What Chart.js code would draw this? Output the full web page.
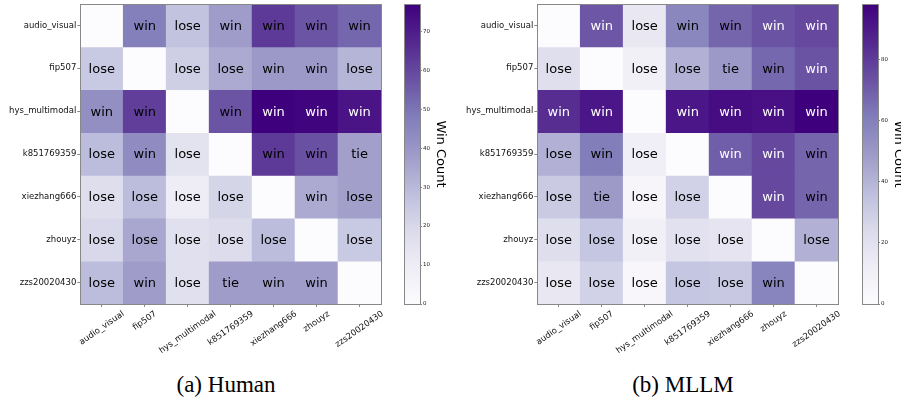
<!DOCTYPE html>
<html>
<head>
<meta charset="utf-8">
<script src="https://cdn.jsdelivr.net/npm/chart.js@4.4.1/dist/chart.umd.min.js"></script>
<style>
  body { margin: 0; background: #fff; width: 901px; height: 400px; position: relative; overflow: hidden; }
  canvas { position: absolute; top: 0; }
  .caption { position: absolute; top: 372px; font-family: "Liberation Serif", serif; font-size: 23px; color: #000; transform: translateX(-50%); white-space: nowrap; }
</style>
</head>
<body>
<canvas id="humanChart" width="400" height="360" style="left:0"></canvas>
<canvas id="humanBar" width="57" height="360" style="left:395px"></canvas>
<canvas id="mllmChart" width="400" height="360" style="left:457px"></canvas>
<canvas id="mllmBar" width="57" height="360" style="left:853px"></canvas>
<div class="caption" style="left:226px">(a) Human</div>
<div class="caption" style="left:683px">(b) MLLM</div>

<script>
/* Data */
const players = ["audio_visual", "fip507", "hys_multimodal", "k851769359", "xiezhang666", "zhouyz", "zzs20020430"];

// win counts, row player vs column player
const humanCounts = [
  [0, 47, 27, 38, 63, 57, 53],
  [25, 0, 23, 34, 39, 39, 31],
  [42, 62, 0, 57, 77, 76, 72],
  [29, 43, 15, 0, 63, 58, 37],
  [17, 29, 10, 21, 0, 34, 37],
  [20, 35, 16, 18, 29, 0, 25],
  [29, 38, 16, 38, 38, 38, 0],
];
const humanResults = [
  ["", "win", "lose", "win", "win", "win", "win"],
  ["lose", "", "lose", "lose", "win", "win", "lose"],
  ["win", "win", "", "win", "win", "win", "win"],
  ["lose", "win", "lose", "", "win", "win", "tie"],
  ["lose", "lose", "lose", "lose", "", "win", "lose"],
  ["lose", "lose", "lose", "lose", "lose", "", "lose"],
  ["lose", "win", "lose", "tie", "win", "win", ""],
];

const mllmCounts = [
  [0, 72, 16, 57, 68, 73, 76],
  [21, 0, 10, 41, 50, 67, 73],
  [84, 91, 0, 91, 94, 93, 98],
  [41, 61, 11, 0, 70, 76, 68],
  [31, 49, 5, 28, 0, 76, 68],
  [22, 33, 10, 20, 18, 0, 41],
  [16, 28, 4, 33, 32, 58, 0],
];
const mllmResults = [
  ["", "win", "lose", "win", "win", "win", "win"],
  ["lose", "", "lose", "lose", "tie", "win", "win"],
  ["win", "win", "", "win", "win", "win", "win"],
  ["lose", "win", "lose", "", "win", "win", "win"],
  ["lose", "tie", "lose", "lose", "", "win", "win"],
  ["lose", "lose", "lose", "lose", "lose", "", "lose"],
  ["lose", "lose", "lose", "lose", "lose", "win", ""],
];

/* Purples colormap */
const purpleStops = ["#fcfbfd", "#efedf5", "#dadaeb", "#bcbddc", "#9e9ac8", "#807dba", "#6a51a3", "#54278f", "#3f007d"];

function hexToRgb(h) {
  return [1, 3, 5].map((i) => parseInt(h.slice(i, i + 2), 16));
}

function purples(t) {
  t = Math.min(1, Math.max(0, t));
  const pos = t * (purpleStops.length - 1);
  const i = Math.min(Math.floor(pos), purpleStops.length - 2);
  const f = pos - i;
  const a = hexToRgb(purpleStops[i]);
  const b = hexToRgb(purpleStops[i + 1]);
  const c = a.map((v, k) => Math.round(v + (b[k] - v) * f));
  return `rgb(${c[0]},${c[1]},${c[2]})`;
}

const frameColor = "#888";
const labelFont = { family: "DejaVu Sans", size: 8.5 };

const framePlugin = {
  id: "frame",
  afterDraw(chart) {
    const { ctx, chartArea: a } = chart;
    ctx.save();
    ctx.strokeStyle = frameColor;
    ctx.lineWidth = 1;
    ctx.strokeRect(Math.round(a.left) + 0.5, Math.round(a.top) + 0.5, Math.round(a.right - a.left), Math.round(a.bottom - a.top));
    ctx.restore();
  },
};

/* Heatmap: one stacked bar per column, one dataset per row */
function makeHeatmap(id, counts, results, whiteAbove) {
  const vmax = Math.max(...counts.flat());

  const cellText = {
    id: "cellText",
    afterDatasetsDraw(chart) {
      const { ctx } = chart;
      ctx.save();
      ctx.font = '13px "DejaVu Sans"';
      ctx.textAlign = "center";
      ctx.textBaseline = "middle";
      chart.data.datasets.forEach((ds, r) => {
        chart.getDatasetMeta(r).data.forEach((bar, c) => {
          const { x, y, base } = bar.getProps(["x", "y", "base"], true);
          ctx.fillStyle = counts[r][c] >= whiteAbove ? "#fff" : "#000";
          ctx.fillText(results[r][c], x, (y + base) / 2 + 1);
        });
      });
      ctx.restore();
    },
    afterDraw(chart) {
      // rotated column labels, centred under each tick like matplotlib
      const { ctx } = chart;
      const xs = chart.scales.x;
      const angle = (35 * Math.PI) / 180;
      ctx.save();
      ctx.font = `${labelFont.size}px "${labelFont.family}"`;
      ctx.fillStyle = "#111";
      ctx.textAlign = "center";
      ctx.textBaseline = "middle";
      players.forEach((name, i) => {
        const w = ctx.measureText(name).width;
        const h = labelFont.size * 1.17;
        const px = xs.getPixelForValue(i);
        const py = chart.chartArea.bottom + 5 + (w * Math.sin(angle) + h * Math.cos(angle)) / 2;
        ctx.save();
        ctx.translate(px, py);
        ctx.rotate(-angle);
        ctx.fillText(name, 0, 0);
        ctx.restore();
      });
      ctx.restore();
    },
  };

  return new Chart(document.getElementById(id), {
    type: "bar",
    data: {
      labels: players,
      datasets: players.map((name, r) => ({
        label: name,
        data: players.map(() => 1),
        backgroundColor: counts[r].map((v) => purples(v / vmax)),
        borderWidth: 0,
        barPercentage: 1,
        categoryPercentage: 1,
      })),
    },
    options: {
      responsive: false,
      animation: false,
      devicePixelRatio: 1,
      layout: { padding: { top: 4, right: 19, left: 0, bottom: 0 } },
      scales: {
        x: {
          stacked: true,
          border: { display: false },
          grid: { offset: false, drawOnChartArea: false, drawTicks: true, tickLength: 3, color: frameColor },
          ticks: { display: false },
          afterFit: (scale) => {
            scale.height = 56;
            scale.paddingLeft = 0;
            scale.paddingRight = 0;
          },
        },
        y: {
          stacked: true,
          reverse: true,
          min: 0,
          max: players.length,
          border: { display: false },
          grid: { drawOnChartArea: false, drawTicks: true, tickLength: 3, color: frameColor },
          afterBuildTicks: (scale) => {
            scale.ticks = players.map((p, i) => ({ value: i + 0.5 }));
          },
          ticks: {
            padding: 1,
            color: "#111",
            font: labelFont,
            callback: (value, index) => players[index],
          },
          afterFit: (scale) => {
            scale.width = 80.3;
            scale.paddingTop = 0;
            scale.paddingBottom = 0;
          },
        },
      },
      plugins: {
        legend: { display: false },
        tooltip: { enabled: false },
      },
    },
    plugins: [cellText, framePlugin],
  });
}

/* Colorbar: one bar from 0 to the max count, filled with the colormap */
function makeColorbar(id, counts, step) {
  const vmax = Math.max(...counts.flat());
  return new Chart(document.getElementById(id), {
    type: "bar",
    data: {
      labels: [""],
      datasets: [
        {
          data: [vmax],
          borderWidth: 0,
          barPercentage: 1,
          categoryPercentage: 1,
          backgroundColor: (context) => {
            const area = context.chart.chartArea;
            if (!area) return purpleStops[4];
            const g = context.chart.ctx.createLinearGradient(0, area.bottom, 0, area.top);
            purpleStops.forEach((col, i) => g.addColorStop(i / (purpleStops.length - 1), col));
            return g;
          },
        },
      ],
    },
    options: {
      responsive: false,
      animation: false,
      devicePixelRatio: 1,
      layout: { padding: { top: 4, left: 9, right: 0, bottom: 56 } },
      scales: {
        x: { display: false },
        y: {
          position: "right",
          min: 0,
          max: vmax,
          border: { display: false },
          grid: { drawOnChartArea: false, drawTicks: true, tickLength: 2, color: frameColor },
          ticks: { stepSize: step, includeBounds: false, padding: 1, color: "#222", font: { family: "DejaVu Sans", size: 5.5 } },
          title: {
            display: true,
            text: "Win Count",
            color: "#000",
            font: { family: "DejaVu Sans", size: 13 },
            padding: 4,
          },
          afterFit: (scale) => {
            scale.width = 32;
            scale.paddingTop = 0;
            scale.paddingBottom = 0;
          },
        },
      },
      plugins: {
        legend: { display: false },
        tooltip: { enabled: false },
      },
    },
    plugins: [framePlugin],
  });
}

makeHeatmap("humanChart", humanCounts, humanResults, 70);
makeColorbar("humanBar", humanCounts, 10);
makeHeatmap("mllmChart", mllmCounts, mllmResults, 69);
makeColorbar("mllmBar", mllmCounts, 20);
</script>
</body>
</html>
